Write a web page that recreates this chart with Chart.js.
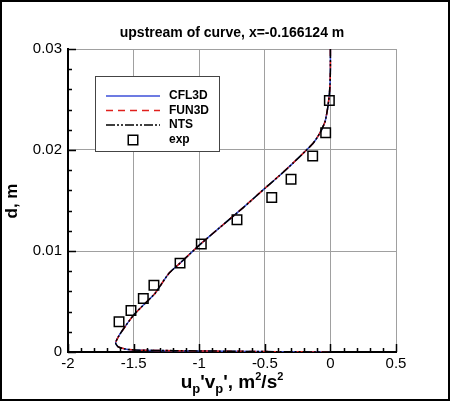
<!DOCTYPE html>
<html>
<head>
<meta charset="utf-8">
<script src="https://cdn.jsdelivr.net/npm/chart.js@4"></script>
<style>
  html, body { margin: 0; padding: 0; background: #fff; }
  #wrap { width: 450px; height: 401px; }
</style>
</head>
<body>
<div id="wrap"><canvas id="myChart" width="450" height="401"></canvas></div>
<script>
// wall distance (m) shared by the computed profiles
const profileD = [0.0300, 0.0280, 0.0265, 0.0255, 0.0245, 0.0236, 0.0228, 0.0217, 0.0207, 0.0199,
  0.0187, 0.0175, 0.0162, 0.0143, 0.0108, 0.0088, 0.0078, 0.0065, 0.0058, 0.0048,
  0.0037, 0.0025, 0.0015, 0.0009, 0.0005, 0.0003, 0.0002, 0.00013, 0.00008, 0.00003, 0];
const cfl3dUV = [0, 0, -0.003, -0.008, -0.017, -0.028, -0.041, -0.079, -0.13, -0.19,
  -0.285, -0.385, -0.50, -0.665, -0.98, -1.146, -1.23, -1.30, -1.337, -1.413,
  -1.497, -1.566, -1.617, -1.637, -1.617, -1.566, -1.497, -1.18, -0.8, -0.4, 0];
const fun3dUV = [0, 0, -0.003, -0.008, -0.017, -0.028, -0.041, -0.079, -0.13, -0.19,
  -0.286, -0.386, -0.50, -0.665, -0.98, -1.146, -1.23, -1.30, -1.337, -1.413,
  -1.497, -1.566, -1.616, -1.636, -1.616, -1.565, -1.496, -1.18, -0.8, -0.4, 0];
const ntsUV = [0, 0, -0.003, -0.008, -0.017, -0.028, -0.041, -0.079, -0.13, -0.19,
  -0.285, -0.385, -0.50, -0.664, -0.98, -1.146, -1.23, -1.30, -1.337, -1.413,
  -1.497, -1.566, -1.617, -1.637, -1.617, -1.566, -1.497, -1.18, -0.8, -0.4, 0];

// experiment
const expUV = [-0.008, -0.036, -0.135, -0.300, -0.447, -0.712, -0.984, -1.146, -1.345, -1.426, -1.520, -1.611];
const expD = [0.0249, 0.0217, 0.0194, 0.0171, 0.0153, 0.0131, 0.0107, 0.0088, 0.0066, 0.0053, 0.0041, 0.0030];

const xTicks = [-2, -1.5, -1, -0.5, 0, 0.5];
const yTicks = [0, 0.01, 0.02, 0.03];

const FONT = '"Liberation Sans", Arial, sans-serif';

const toPts = (xs, ys) => xs.map((x, i) => ({ x: x, y: ys[i] }));

// title, axis titles, inward ticks, legend, outer frame
const decor = {
  id: 'decor',
  afterDatasetsDraw(chart) {
    const { ctx, chartArea: a, scales } = chart;
    const sx = scales.x, sy = scales.y;
    ctx.save();
    ctx.strokeStyle = '#000';
    ctx.lineWidth = 1.5;
    ctx.beginPath();
    for (let v = -2; v <= 0.5001; v += 0.1) {
      const px = Math.round(sx.getPixelForValue(v)) + 0.5;
      const major = Math.abs(v * 2 - Math.round(v * 2)) < 1e-6;
      ctx.moveTo(px, a.bottom);
      ctx.lineTo(px, a.bottom - (major ? 8 : 4));
    }
    for (let v = 0; v <= 0.03001; v += 0.002) {
      const py = Math.round(sy.getPixelForValue(v)) + 0.5;
      const major = Math.abs(v * 100 - Math.round(v * 100)) < 1e-6;
      ctx.moveTo(a.left, py);
      ctx.lineTo(a.left + (major ? 8 : 4), py);
    }
    ctx.stroke();

    // legend box
    const lx = 95.5, ly = 76.5, lw = 124, lh = 75;
    ctx.fillStyle = '#fff';
    ctx.fillRect(lx, ly, lw, lh);
    ctx.strokeStyle = '#444';
    ctx.lineWidth = 1;
    ctx.strokeRect(lx, ly, lw, lh);
    const rows = [96, 110.5, 125, 140];
    ctx.font = 'bold 12px ' + FONT;
    ctx.textBaseline = 'middle';
    ctx.textAlign = 'left';
    chart.data.datasets.forEach((ds, i) => {
      const y = rows[i];
      if (ds.showLine === false) {
        const s = 9.5;
        ctx.setLineDash([]);
        ctx.strokeStyle = ds.borderColor;
        ctx.lineWidth = ds.borderWidth;
        ctx.strokeRect(133 - s / 2, y - s / 2, s, s);
      } else {
        ctx.setLineDash(ds.borderDash || []);
        ctx.strokeStyle = ds.borderColor;
        ctx.lineWidth = ds.borderWidth;
        ctx.beginPath();
        ctx.moveTo(106, y);
        ctx.lineTo(160, y);
        ctx.stroke();
      }
      ctx.setLineDash([]);
      ctx.fillStyle = '#000';
      ctx.fillText(ds.label, 169, y);
    });

    // main title
    ctx.fillStyle = '#000';
    ctx.font = 'bold 14px ' + FONT;
    ctx.textAlign = 'center';
    ctx.textBaseline = 'alphabetic';
    ctx.fillText('upstream of curve, x=-0.166124 m', 232, 37);

    // y title
    ctx.save();
    ctx.translate(17, 201);
    ctx.rotate(-Math.PI / 2);
    ctx.font = 'bold 17px ' + FONT;
    ctx.textAlign = 'center';
    ctx.fillText('d, m', 0, 0);
    ctx.restore();

    // x title with sub/superscripts
    const parts = [
      ['u', 0, 19], ['p', 5, 13], ["'v", 0, 19], ['p', 5, 13], ["', m", 0, 19],
      ['2', -8, 11], ['/s', 0, 19], ['2', -8, 11]
    ];
    let total = 0;
    parts.forEach(p => { ctx.font = 'bold ' + p[2] + 'px ' + FONT; total += ctx.measureText(p[0]).width; });
    let cx = (a.left + a.right) / 2 - total / 2;
    ctx.textAlign = 'left';
    parts.forEach(p => {
      ctx.font = 'bold ' + p[2] + 'px ' + FONT;
      ctx.fillText(p[0], cx, 388 + p[1]);
      cx += ctx.measureText(p[0]).width;
    });

    // outer frame
    ctx.strokeStyle = '#000';
    ctx.lineWidth = 2;
    ctx.strokeRect(1, 1, chart.width - 2, chart.height - 2);
    ctx.restore();
  }
};

const ctx = document.getElementById('myChart').getContext('2d');

const chart = new Chart(ctx, {
  type: 'scatter',
  data: {
    datasets: [
      {
        label: 'CFL3D',
        data: toPts(cfl3dUV, profileD),
        showLine: true,
        borderColor: '#3d4fd8',
        borderWidth: 1.5,
        pointRadius: 0,
        tension: 0.2,
        order: 3
      },
      {
        label: 'FUN3D',
        data: toPts(fun3dUV, profileD),
        showLine: true,
        borderColor: '#e0201c',
        borderWidth: 1.5,
        borderDash: [7, 5],
        pointRadius: 0,
        tension: 0.2,
        order: 2
      },
      {
        label: 'NTS',
        data: toPts(ntsUV, profileD),
        showLine: true,
        borderColor: '#000',
        borderWidth: 1.5,
        borderDash: [9, 2, 2, 2, 2, 2],
        pointRadius: 0,
        tension: 0.2,
        order: 1
      },
      {
        label: 'exp',
        data: toPts(expUV, expD),
        showLine: false,
        pointStyle: 'rect',
        pointRadius: 6.7,
        borderColor: '#000',
        borderWidth: 1.5,
        backgroundColor: 'rgba(0,0,0,0)',
        order: 0
      }
    ]
  },
  options: {
    responsive: false,
    animation: false,
    devicePixelRatio: 1,
    layout: { padding: { left: 0, top: 49, right: 54, bottom: 0 } },
    plugins: {
      legend: { display: false },
      tooltip: { enabled: false },
      title: { display: false }
    },
    scales: {
      x: {
        type: 'linear',
        min: -2,
        max: 0.5,
        afterBuildTicks: s => { s.ticks = xTicks.map(v => ({ value: v })); },
        afterFit: s => { s.height = 49; },
        ticks: {
          color: '#000',
          font: { family: FONT, size: 15 },
          padding: 3,
          maxRotation: 0,
          callback: v => String(v)
        },
        grid: { color: '#a0a0a0', lineWidth: 1, drawTicks: false },
        border: { color: '#000', width: 2 }
      },
      y: {
        type: 'linear',
        min: 0,
        max: 0.03,
        afterBuildTicks: s => { s.ticks = yTicks.map(v => ({ value: v })); },
        afterFit: s => { s.width = 68; },
        ticks: {
          color: '#000',
          font: { family: FONT, size: 15 },
          padding: 6,
          callback: v => (v === 0 ? '0' : v.toFixed(2))
        },
        grid: { color: '#a0a0a0', lineWidth: 1, drawTicks: false },
        border: { color: '#000', width: 2 }
      }
    }
  },
  plugins: [decor]
});
</script>
</body>
</html>
